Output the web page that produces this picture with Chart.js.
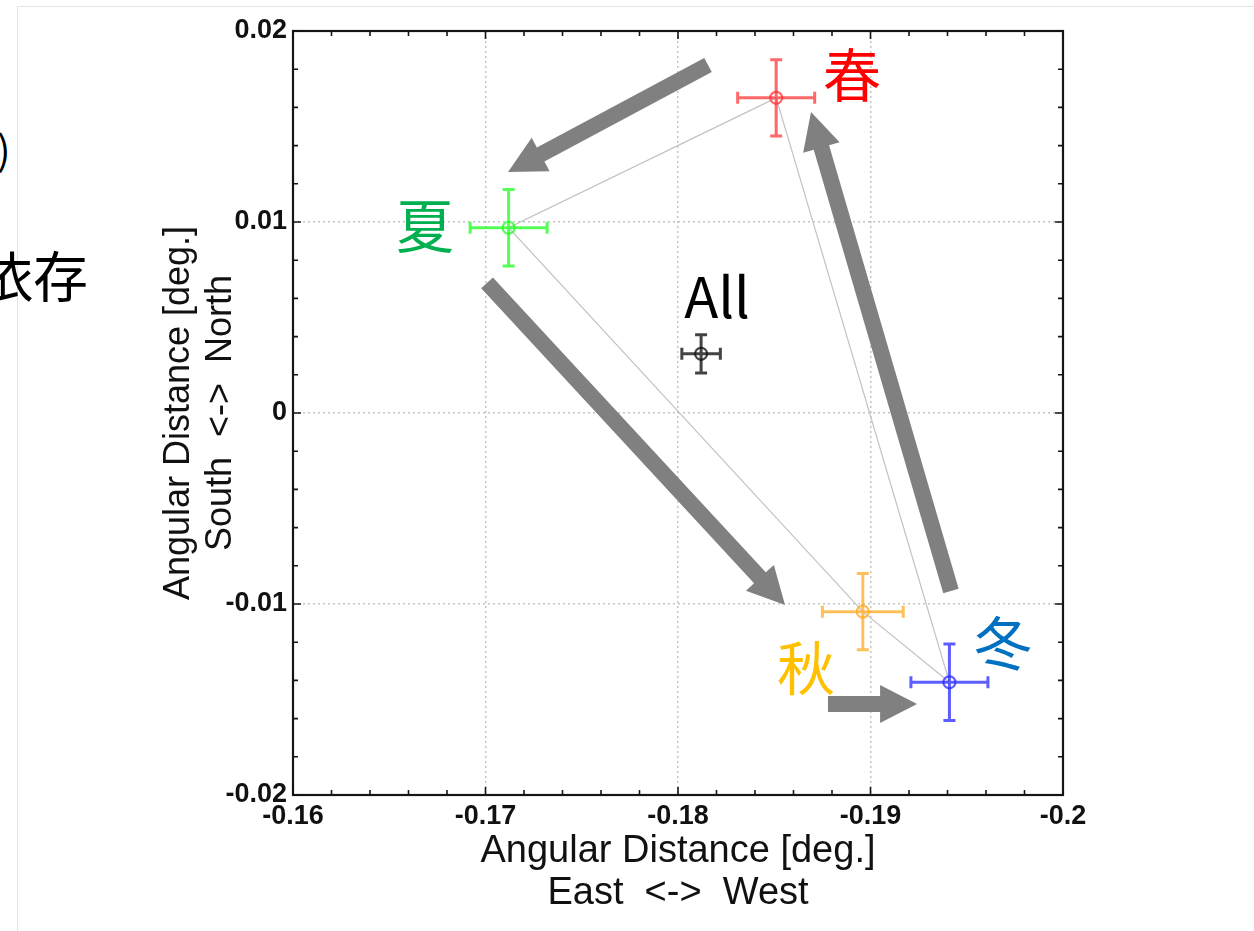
<!DOCTYPE html>
<html>
<head>
<meta charset="utf-8">
<script src="https://cdn.jsdelivr.net/npm/chart.js@4.4.1/dist/chart.umd.min.js"></script>
<style>
  html, body { margin: 0; padding: 0; background: #fff; }
  body { width: 1254px; height: 931px; position: relative; overflow: hidden; }
  .sheet { position: absolute; left: 17px; top: 6px; width: 1400px; height: 1000px;
           border-left: 1px solid #e3e3e3; border-top: 1px solid #e3e3e3; }
  .frag { position: absolute; font-family: "Noto Sans CJK JP", sans-serif; color: #000;
          white-space: nowrap; line-height: 1; }
  canvas { position: absolute; left: 0; top: 0; }
</style>
</head>
<body>
<div class="sheet"></div>
<div class="frag" style="left:-3px; top:128px; font-size:40px;">)</div>
<div class="frag" style="left:-22px; top:246px; font-size:55px;">依存</div>
<canvas id="chart" width="1254" height="931"></canvas>
<script>
// season centroids (deg.)
const seasonNames = ['春', '夏', '秋', '冬', 'All'];
const xValues = [-0.1851, -0.1712, -0.1896, -0.1941, -0.1812];
const yValues = [0.0165, 0.0097, -0.0104, -0.0141, 0.0031];
const xErrors = [0.002, 0.002, 0.0021, 0.002, 0.001];
const yErrors = [0.002, 0.002, 0.002, 0.002, 0.001];

// gray loop 春 -> 夏 -> 秋 -> 冬 -> 春
const loopOrder = [0, 1, 2, 3, 0];

// big gray arrows (data coords)
const arrowFromX = [-0.18156, -0.17008, -0.18779, -0.19418];
const arrowFromY = [0.01822, 0.00681, -0.01524, -0.00932];
const arrowToX = [-0.17117, -0.18556, -0.19242, -0.18691];
const arrowToY = [0.01262, -0.01005, -0.01524, 0.01576];

// text labels (data coords)
const labelX = [-0.18904, -0.16686, -0.18665, -0.19688, -0.18203];
const labelY = [0.0177, 0.00979, -0.01335, -0.01204, 0.00610];

const xTicks = [-0.16, -0.17, -0.18, -0.19, -0.2];
const yTicks = [0.02, 0.01, 0, -0.01, -0.02];

const barColors = ['rgba(255,40,40,0.7)', 'rgba(30,255,30,0.75)', 'rgba(255,165,20,0.7)',
                   'rgba(40,40,255,0.75)', 'rgba(20,20,20,0.8)'];
const labelColors = ['#ff0000', '#00b050', '#ffc000', '#0070c0', '#000000'];

const sansFont = '"Liberation Sans", Arial, sans-serif';
const cjkFont = '"Noto Sans CJK JP", sans-serif';

function fmt(v) {
    if (Math.abs(v) < 1e-9) return '0';
    return String(parseFloat(v.toFixed(3)));
}

function drawArrow(ctx, x1, y1, x2, y2) {
    const ang = Math.atan2(y2 - y1, x2 - x1);
    const hl = 37, hw = 19, sw = 16;
    const bx = x2 - hl * Math.cos(ang), by = y2 - hl * Math.sin(ang);
    const nx = -Math.sin(ang), ny = Math.cos(ang);
    ctx.beginPath();
    ctx.moveTo(x1 + nx * sw / 2, y1 + ny * sw / 2);
    ctx.lineTo(bx + nx * sw / 2, by + ny * sw / 2);
    ctx.lineTo(bx + nx * hw, by + ny * hw);
    ctx.lineTo(x2, y2);
    ctx.lineTo(bx - nx * hw, by - ny * hw);
    ctx.lineTo(bx - nx * sw / 2, by - ny * sw / 2);
    ctx.lineTo(x1 - nx * sw / 2, y1 - ny * sw / 2);
    ctx.closePath();
    ctx.fill();
}

const errorBars = {
    id: 'errorBars',
    afterDatasetsDraw(chart) {
        const {ctx, scales: {x, y}} = chart;
        const cap = 6;
        ctx.save();
        ctx.lineWidth = 3;
        xValues.forEach((xv, i) => {
            const px = x.getPixelForValue(xv);
            const py = y.getPixelForValue(yValues[i]);
            const x1 = x.getPixelForValue(xv - xErrors[i]);
            const x2 = x.getPixelForValue(xv + xErrors[i]);
            const y1 = y.getPixelForValue(yValues[i] - yErrors[i]);
            const y2 = y.getPixelForValue(yValues[i] + yErrors[i]);
            ctx.strokeStyle = barColors[i];
            ctx.beginPath();
            ctx.moveTo(x1, py); ctx.lineTo(x2, py);
            ctx.moveTo(px, y1); ctx.lineTo(px, y2);
            ctx.moveTo(x1, py - cap); ctx.lineTo(x1, py + cap);
            ctx.moveTo(x2, py - cap); ctx.lineTo(x2, py + cap);
            ctx.moveTo(px - cap, y1); ctx.lineTo(px + cap, y1);
            ctx.moveTo(px - cap, y2); ctx.lineTo(px + cap, y2);
            ctx.stroke();
        });
        ctx.restore();
    }
};

const annotations = {
    id: 'annotations',
    afterDraw(chart) {
        const {ctx, chartArea, scales: {x, y}} = chart;
        ctx.save();
        // arrows
        ctx.fillStyle = '#808080';
        arrowFromX.forEach((ax, i) => {
            drawArrow(ctx, x.getPixelForValue(ax), y.getPixelForValue(arrowFromY[i]),
                      x.getPixelForValue(arrowToX[i]), y.getPixelForValue(arrowToY[i]));
        });
        // labels
        ctx.textAlign = 'center';
        ctx.textBaseline = 'middle';
        seasonNames.forEach((name, i) => {
            ctx.fillStyle = labelColors[i];
            ctx.font = (name === 'All' ? '56px ' : '58px ') + cjkFont;
            ctx.fillText(name, x.getPixelForValue(labelX[i]), y.getPixelForValue(labelY[i]));
        });
        // frame with inward ticks
        const {left, right, top, bottom} = chartArea;
        ctx.strokeStyle = '#151515';
        ctx.lineWidth = 2.2;
        ctx.strokeRect(left, top, right - left, bottom - top);
        ctx.lineWidth = 1.6;
        ctx.beginPath();
        for (let i = 0; i <= 20; i++) {
            const len = i % 5 === 0 ? 8 : 5;
            const px = x.getPixelForValue(-0.2 + i * 0.002);
            ctx.moveTo(px, bottom); ctx.lineTo(px, bottom - len);
            ctx.moveTo(px, top); ctx.lineTo(px, top + len);
            const py = y.getPixelForValue(-0.02 + i * 0.002);
            ctx.moveTo(left, py); ctx.lineTo(left + len, py);
            ctx.moveTo(right, py); ctx.lineTo(right - len, py);
        }
        ctx.stroke();
        ctx.restore();
    }
};

new Chart(document.getElementById('chart'), {
    type: 'scatter',
    data: {
        datasets: [
            {
                data: xValues.map((xv, i) => ({x: xv, y: yValues[i]})),
                pointRadius: 6,
                pointBorderWidth: 2.2,
                pointBackgroundColor: 'rgba(0,0,0,0)',
                pointBorderColor: barColors,
                order: 1
            },
            {
                data: loopOrder.map(i => ({x: xValues[i], y: yValues[i]})),
                showLine: true,
                borderColor: '#c2c2c2',
                borderWidth: 1.2,
                pointRadius: 0,
                order: 2
            }
        ]
    },
    options: {
        responsive: false,
        animation: false,
        layout: { padding: { left: 0, top: 31, right: 191, bottom: 0 } },
        plugins: { legend: { display: false }, tooltip: { enabled: false } },
        scales: {
            x: {
                type: 'linear',
                reverse: true,
                min: -0.2,
                max: -0.16,
                afterBuildTicks: s => { s.ticks = xTicks.map(v => ({value: v})); },
                afterFit: s => { s.height = 136; },
                grid: { color: '#c4c4c4', lineWidth: 1.5, drawTicks: false },
                border: { display: false, dash: [2, 3] },
                ticks: {
                    padding: 5, maxRotation: 0, autoSkip: false, color: '#111',
                    font: { family: sansFont, size: 27, weight: 'bold' },
                    callback: v => fmt(v)
                },
                title: {
                    display: true,
                    text: ['Angular Distance [deg.]', 'East  <->  West'],
                    color: '#111',
                    font: { family: sansFont, size: 38, lineHeight: 1.1 },
                    padding: { top: 0, bottom: 17 }
                }
            },
            y: {
                type: 'linear',
                min: -0.02,
                max: 0.02,
                afterBuildTicks: s => { s.ticks = yTicks.map(v => ({value: v})); },
                afterFit: s => { s.width = 293; },
                grid: { color: '#c4c4c4', lineWidth: 1.5, drawTicks: false },
                border: { display: false, dash: [2, 3] },
                ticks: {
                    padding: 6, autoSkip: false, color: '#111',
                    font: { family: sansFont, size: 27, weight: 'bold' },
                    callback: v => fmt(v)
                },
                title: {
                    display: true,
                    text: ['Angular Distance [deg.]', 'South  <->  North'],
                    color: '#111',
                    font: { family: sansFont, size: 36, lineHeight: 1.17 },
                    padding: { top: 158, bottom: 0 }
                }
            }
        }
    },
    plugins: [errorBars, annotations]
});
</script>
</body>
</html>
